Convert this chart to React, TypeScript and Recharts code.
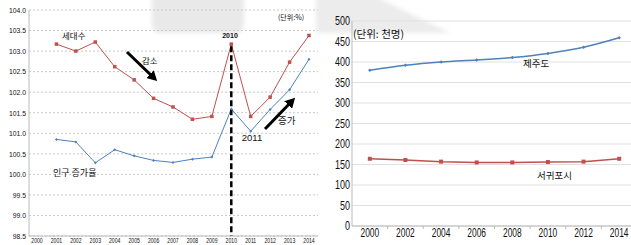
import { LineChart, Line, XAxis, YAxis, CartesianGrid, ReferenceLine } from "recharts";

// left panel: yearly change rate (%)
const years = [2000, 2001, 2002, 2003, 2004, 2005, 2006, 2007, 2008, 2009, 2010, 2011, 2012, 2013, 2014];
const householdRate = [null, 103.17, 103.0, 103.22, 102.62, 102.3, 101.85, 101.64, 101.34, 101.41, 103.17, 101.41, 101.88, 102.73, 103.38];
const populationRate = [null, 100.85, 100.79, 100.28, 100.6, 100.45, 100.34, 100.29, 100.37, 100.42, 101.59, 101.05, 101.58, 102.06, 102.8];
const rateTicks = [98.5, 99.0, 99.5, 100.0, 100.5, 101.0, 101.5, 102.0, 102.5, 103.0, 103.5, 104.0];

// right panel: population (thousand)
const popYears = [2000, 2002, 2004, 2006, 2008, 2010, 2012, 2014];
const jejuPop = [380, 392, 400, 405, 411, 421, 436, 459];
const seogwipoPop = [164, 161, 157, 155, 155, 156, 157, 164];
const popTicks = [0, 50, 100, 150, 200, 250, 300, 350, 400, 450, 500];
const popAxisTicks = [2000, 2001, 2002, 2003, 2004, 2005, 2006, 2007, 2008, 2009, 2010, 2011, 2012, 2013, 2014];

const RED = "#c0504d";
const BLUE = "#4f81bd";
const sans = "'Liberation Sans', Arial, sans-serif";
const kr = "'Noto Sans CJK KR', sans-serif";

const leftData = years.map((year, i) => ({ year, household: householdRate[i], population: populationRate[i] }));
const rightData = popYears.map((year, i) => ({ year, jeju: jejuPop[i], seogwipo: seogwipoPop[i] }));

const squareDot = (color: string, size: number) => (props: any) => {
  const { cx, cy, index } = props;
  if (cx == null || cy == null || props.value == null) return <g key={index} />;
  return <rect key={index} x={cx - size / 2} y={cy - size / 2} width={size} height={size} fill={color} />;
};

const diamondDot = (color: string, size: number) => (props: any) => {
  const { cx, cy, index } = props;
  if (cx == null || cy == null || props.value == null) return <g key={index} />;
  const s = size / 2;
  return <path key={index} d={`M${cx},${cy - s}L${cx + s},${cy}L${cx},${cy + s}L${cx - s},${cy}Z`} fill={color} />;
};

// narrow-looking tick labels: the original uses a condensed face
const condensedTick =
  (size: number, scale: number, anchor: "middle" | "end", dy: number, fmt?: (v: number) => string) =>
  (props: any) => {
    const { x, y, payload } = props;
    const label = fmt ? fmt(payload.value) : String(payload.value);
    return (
      <text transform={`translate(${x},${y}) scale(${scale},1)`} dy={dy} textAnchor={anchor} fontSize={size} fill="#111" fontFamily={sans}>
        {label}
      </text>
    );
  };

const popYearLabel = condensedTick(12, 0.7, "middle", 11.3);
const PopTick = (props: any) => {
  const { x, y, payload } = props;
  if (payload.value % 2 === 1) {
    return <line x1={x} x2={x} y1={y} y2={y + 3} stroke="#bbb" />;
  }
  return popYearLabel(props);
};

export default function App() {
  return (
    <div style={{ position: "fixed", left: 0, top: 0, width: 631, height: 245, overflow: "hidden", background: "#fff" }}>
      {/* grey shadow band across the top */}
      <svg width={631} height={245} style={{ position: "absolute", left: 0, top: 0 }}>
        <defs>
          <filter id="soft">
            <feGaussianBlur stdDeviation="2" />
          </filter>
        </defs>
        <rect x={152} y={-12} width={92} height={45} rx={8} fill="#e9e9e9" filter="url(#soft)" />
        <path d="M316,-5 L372,-5 L450,33 L316,33 Z" fill="#ececec" filter="url(#soft)" />
      </svg>

      <div style={{ position: "absolute", left: 0, top: 0 }}>
        <LineChart width={320} height={245} data={leftData} margin={{ top: 10, right: 2, left: 0, bottom: 0 }}>
          <CartesianGrid vertical={false} stroke="#c8c8c8" strokeDasharray="2 2" />
          <XAxis
            dataKey="year"
            type="number"
            domain={[2000, 2014]}
            ticks={years}
            interval={0}
            padding={{ left: 8, right: 9 }}
            height={9}
            tickLine={false}
            tickSize={0}
            tickMargin={1}
            axisLine={{ stroke: "#bbb" }}
            tick={condensedTick(8, 0.64, "middle", 6.2)}
          />
          <YAxis
            domain={[98.5, 104]}
            ticks={rateTicks}
            interval={0}
            width={29}
            tickLine={false}
            tickSize={0}
            tickMargin={3}
            axisLine={{ stroke: "#bbb" }}
            tick={condensedTick(8, 0.85, "end", 2.8, (v) => v.toFixed(1))}
          />
          <Line dataKey="household" stroke={RED} strokeWidth={1} dot={squareDot(RED, 3.5)} isAnimationActive={false} />
          <Line dataKey="population" stroke={BLUE} strokeWidth={1} dot={diamondDot(BLUE, 3)} isAnimationActive={false} />
          <ReferenceLine
            segment={[{ x: 2010, y: 103.12 }, { x: 2010, y: 98.5 }]}
            stroke="#000"
            strokeWidth={2.5}
            strokeDasharray="6 3"
          />
        </LineChart>
      </div>

      <div style={{ position: "absolute", left: 320, top: 0 }}>
        <LineChart width={317} height={245} data={rightData} margin={{ top: 21, right: 0, left: 0, bottom: 0 }}>
          <CartesianGrid vertical={false} stroke="#e0e0e0" />
          <XAxis
            dataKey="year"
            type="number"
            domain={[1999, 2015]}
            ticks={popAxisTicks}
            interval={0}
            height={19}
            tickLine={false}
            tickSize={0}
            tickMargin={0}
            axisLine={{ stroke: "#bbb" }}
            tick={PopTick}
          />
          <YAxis
            domain={[0, 500]}
            ticks={popTicks}
            interval={0}
            width={32}
            tickLine={false}
            tickSize={0}
            tickMargin={2}
            axisLine={{ stroke: "#bbb" }}
            tick={condensedTick(12, 0.75, "end", 4.3)}
          />
          <Line dataKey="jeju" type="monotone" stroke={BLUE} strokeWidth={1.5} dot={diamondDot(BLUE, 3.5)} isAnimationActive={false} />
          <Line dataKey="seogwipo" stroke={RED} strokeWidth={1.5} dot={squareDot(RED, 4)} isAnimationActive={false} />
        </LineChart>
      </div>

      {/* annotations */}
      <svg width={631} height={245} style={{ position: "absolute", left: 0, top: 0, pointerEvents: "none" }}>
        <defs>
          <marker id="head" markerUnits="userSpaceOnUse" markerWidth={11} markerHeight={11} refX={7} refY={5.5} orient="auto">
            <path d="M0,0 L10,5.5 L0,11 Z" fill="#000" />
          </marker>
        </defs>
        <line x1={127} y1={52} x2={155} y2={79} stroke="#000" strokeWidth={3} markerEnd="url(#head)" />
        <line x1={265} y1={129} x2={293} y2={100} stroke="#000" strokeWidth={3} markerEnd="url(#head)" />
        <g fontFamily={kr} fill="#111" dominantBaseline="central">
          <text x={62} y={35} fontSize={8.5}>세대수</text>
          <text x={142} y={60} fontSize={8.5}>감소</text>
          <text x={278} y={120} fontSize={9.5}>증가</text>
          <text x={53} y={172} fontSize={9}>인구 증가율</text>
          <text x={278} y={17} fontSize={7}>(단위:%)</text>
          <text x={353} y={33} fontSize={10.5}>(단위: 천명)</text>
          <text x={523} y={63} fontSize={9.5}>제주도</text>
          <text x={537} y={175} fontSize={9.5}>서귀포시</text>
        </g>
        <text x={230} y={35} fontSize={7} fontWeight="bold" textAnchor="middle" dominantBaseline="central" fontFamily={sans} fill="#111">2010</text>
        <text x={252} y={137} fontSize={9.5} textAnchor="middle" dominantBaseline="central" fontFamily={sans} fill="#111">2011</text>
      </svg>
    </div>
  );
}
